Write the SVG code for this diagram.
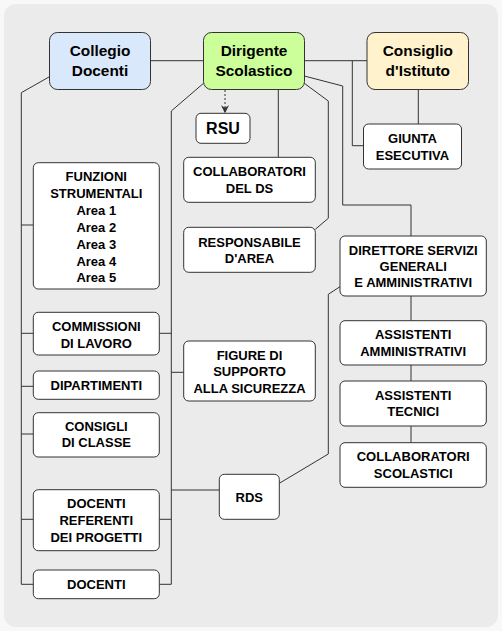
<svg xmlns="http://www.w3.org/2000/svg" width="502" height="631" viewBox="0 0 502 631">
<defs>
<style>
.bx{fill:#fff;stroke:#333;stroke-width:1}
.ln{fill:none;stroke:#333;stroke-width:1}
text{font-family:"Liberation Sans",Arial,sans-serif;font-weight:bold;fill:#000;text-anchor:middle}
.t{font-size:15.4px}
.s{font-size:13px}
</style>
<marker id="arr" viewBox="0 0 10 10" refX="9" refY="5" markerWidth="8" markerHeight="8" orient="auto" markerUnits="userSpaceOnUse">
<path d="M0,0 L10,5 L0,10 L3,5 Z" fill="#333"/>
</marker>
</defs>
<rect x="0" y="0" width="502" height="631" fill="#f8f8f8"/>
<rect x="4" y="4" width="494" height="623" rx="12" fill="#ebebeb"/>
<g id="connectors">
<path class="ln" d="M150.7 60.7 H203.5"/>
<path class="ln" d="M304.3 60.7 H367"/>
<path class="ln" d="M352.3 60.7 V145.7 H363.5"/>
<path class="ln" d="M418.3 89.7 V124"/>
<path class="ln" d="M225 90 V112.5" stroke-dasharray="2 2" marker-end="url(#arr)"/>
<path class="ln" d="M278.3 89.7 V157.3"/>
<path class="ln" d="M203.5 83.3 L171.3 111 V584.3 H159.3 M159.3 333.3 H171.3 M159.3 519.3 H171.3 M171.3 372.3 H183.7 M171.3 490 H219.3"/>
<path class="ln" d="M49.5 76.7 L21.3 92.7 V584.3 H33.3 M21.3 225 H33.3 M21.3 333.3 H33.3 M21.3 386.3 H33.3 M21.3 434 H33.3 M21.3 519.3 H33.3"/>
<path class="ln" d="M304.3 76 L342.7 86 V205 H411 V236"/>
<path class="ln" d="M304.3 83.3 L328.3 101 V218.3 L315.3 229.3"/>
<path class="ln" d="M340 286.7 L328.3 294.3 V454 L279.3 483.3"/>
<path class="ln" d="M411 296 V320.7 M411 365 V381 M411 426 V442.7"/>
</g>
<g id="collegio">
<rect x="49.5" y="32.5" width="101" height="57" rx="8" fill="#dae8fc" stroke="#333"/>
<text class="t" x="100" y="56">Collegio</text>
<text class="t" x="100" y="75.5">Docenti</text>
</g>
<g id="dirigente">
<rect x="203.5" y="32.5" width="101" height="57" rx="8" fill="#ccff99" stroke="#333"/>
<text class="t" x="254" y="56">Dirigente</text>
<text class="t" x="254" y="75.5">Scolastico</text>
</g>
<g id="consiglio">
<rect x="367" y="32.5" width="101.5" height="57" rx="8" fill="#fff2cc" stroke="#333"/>
<text class="t" x="417.8" y="56">Consiglio</text>
<text class="t" x="417.8" y="75.5">d'Istituto</text>
</g>
<g id="rsu">
<rect class="bx" x="196" y="113.3" width="54" height="30" rx="5"/>
<text x="223" y="134" style="font-size:16px">RSU</text>
</g>
<g id="giunta">
<rect class="bx" x="363.5" y="124" width="98" height="45" rx="5"/>
<text class="s" x="412.5" y="143">GIUNTA</text>
<text class="s" x="412.5" y="159.7">ESECUTIVA</text>
</g>
<g id="collaboratori-ds">
<rect class="bx" x="183.7" y="157.3" width="131.6" height="45" rx="5"/>
<text class="s" x="249.5" y="176.4">COLLABORATORI</text>
<text class="s" x="249.5" y="193.4">DEL DS</text>
</g>
<g id="responsabile">
<rect class="bx" x="183.7" y="227.3" width="131.6" height="45" rx="5"/>
<text class="s" x="249.5" y="247">RESPONSABILE</text>
<text class="s" x="249.5" y="263">D'AREA</text>
</g>
<g id="figure">
<rect class="bx" x="183.7" y="341" width="131.6" height="60" rx="5"/>
<text class="s" x="249.5" y="359.7">FIGURE DI</text>
<text class="s" x="249.5" y="376.4">SUPPORTO</text>
<text class="s" x="249.5" y="393">ALLA SICUREZZA</text>
</g>
<g id="rds">
<rect class="bx" x="219.3" y="474.3" width="60" height="45" rx="5"/>
<text class="s" x="249.3" y="502.4">RDS</text>
</g>
<g id="funzioni">
<rect class="bx" x="33.3" y="162.7" width="126" height="126.3" rx="5"/>
<text class="s" x="96.3" y="181.4">FUNZIONI</text>
<text class="s" x="96.3" y="198.4">STRUMENTALI</text>
<text class="s" x="96.3" y="215.2">Area 1</text>
<text class="s" x="96.3" y="232">Area 2</text>
<text class="s" x="96.3" y="248.8">Area 3</text>
<text class="s" x="96.3" y="265.6">Area 4</text>
<text class="s" x="96.3" y="282.4">Area 5</text>
</g>
<g id="commissioni">
<rect class="bx" x="33.3" y="312.3" width="126" height="42.7" rx="5"/>
<text class="s" x="96.3" y="331.4">COMMISSIONI</text>
<text class="s" x="96.3" y="348">DI LAVORO</text>
</g>
<g id="dipartimenti">
<rect class="bx" x="33.3" y="371" width="126" height="28.3" rx="5"/>
<text class="s" x="96.3" y="389.7">DIPARTIMENTI</text>
</g>
<g id="consigli">
<rect class="bx" x="33.3" y="412.7" width="126" height="44.3" rx="5"/>
<text class="s" x="96.3" y="431.4">CONSIGLI</text>
<text class="s" x="96.3" y="447.4">DI CLASSE</text>
</g>
<g id="referenti">
<rect class="bx" x="33.3" y="489.7" width="126" height="61" rx="5"/>
<text class="s" x="96.3" y="508">DOCENTI</text>
<text class="s" x="96.3" y="525.4">REFERENTI</text>
<text class="s" x="96.3" y="542.4">DEI PROGETTI</text>
</g>
<g id="docenti">
<rect class="bx" x="33.3" y="570" width="126" height="28.7" rx="5"/>
<text class="s" x="96.3" y="589">DOCENTI</text>
</g>
<g id="direttore">
<rect class="bx" x="340" y="236" width="146.3" height="60" rx="5"/>
<text class="s" x="413.2" y="254.7">DIRETTORE SERVIZI</text>
<text class="s" x="413.2" y="271">GENERALI</text>
<text class="s" x="413.2" y="287.4">E AMMINISTRATIVI</text>
</g>
<g id="assistenti-amm">
<rect class="bx" x="340" y="320.7" width="146.3" height="44.3" rx="5"/>
<text class="s" x="413.2" y="339">ASSISTENTI</text>
<text class="s" x="413.2" y="356.4">AMMINISTRATIVI</text>
</g>
<g id="assistenti-tec">
<rect class="bx" x="340" y="381" width="146.3" height="45" rx="5"/>
<text class="s" x="413.2" y="400.4">ASSISTENTI</text>
<text class="s" x="413.2" y="416.4">TECNICI</text>
</g>
<g id="collaboratori-scol">
<rect class="bx" x="340" y="442.7" width="146.3" height="44.6" rx="5"/>
<text class="s" x="413.2" y="461.4">COLLABORATORI</text>
<text class="s" x="413.2" y="478">SCOLASTICI</text>
</g>
</svg>
